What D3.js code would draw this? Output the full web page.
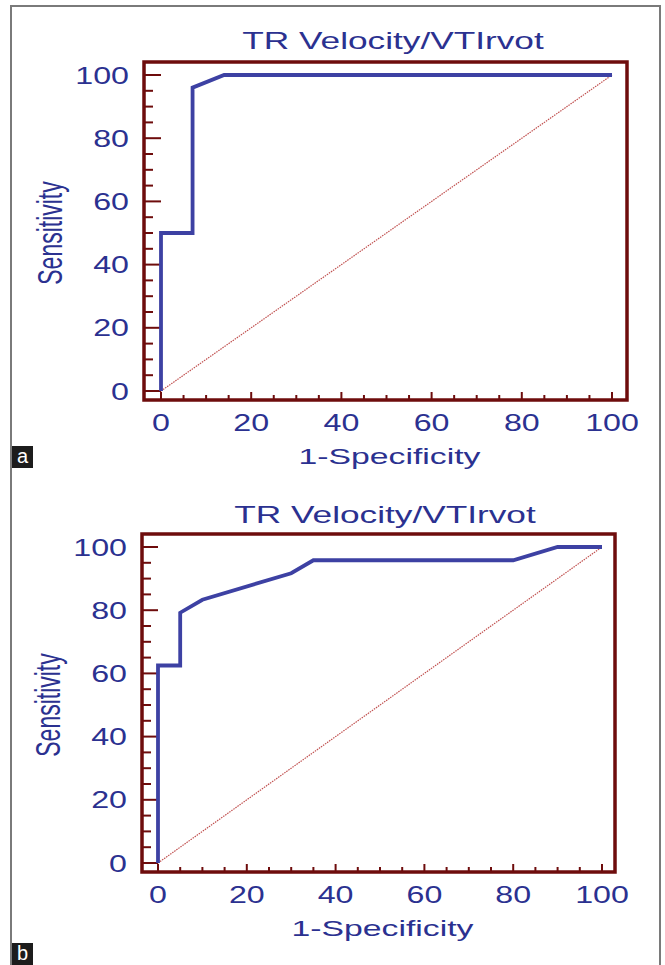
<!DOCTYPE html>
<html>
<head>
<meta charset="utf-8">
<script src="https://cdn.jsdelivr.net/npm/d3@7"></script>
<style>
  html, body { margin: 0; padding: 0; background: #ffffff; }
  svg { display: block; }
  text { font-family: "Liberation Sans", Arial, sans-serif; }
</style>
</head>
<body>
<svg id="roc-svg" width="665" height="965"></svg>
<script>
// ROC data (1-specificity %, sensitivity %)
const fprA = [0, 0, 7, 7, 14, 100]
const sensA = [0, 50, 50, 96, 100, 100]
const fprB = [0, 0, 5, 5, 10, 30, 35, 80, 90, 100]
const sensB = [0, 62.5, 62.5, 79.2, 83.3, 91.7, 95.8, 95.8, 100, 100]
const refLine = [0, 100]          // chance diagonal
const tickValues = [0, 20, 40, 60, 80, 100]
const panelLabels = ["a", "b"]
const chartTitle = "TR Velocity/VTIrvot"
const xTitle = "1-Specificity"
const yTitle = "Sensitivity"

const textColor = "#2b3190",
      curveColor = "#3d41a3",
      frameColor = "#6e0c0c",
      diagColor = "#c0504f"

const sx = 1.4   // the source figure is stretched sideways

// panel layout (pixel boxes)
const layouts = [
    { frame: [144, 62, 627, 400], xr: [161, 612], yr: [391, 75], titleX: 393, titleY: 49, labelY: 446 },
    { frame: [142, 534, 615, 872], xr: [158, 602], yr: [863, 547], titleX: 385, titleY: 523, labelY: 943 }
]
const series = [
    { fpr: fprA, sens: sensA },
    { fpr: fprB, sens: sensB }
]

const svg = d3.select("#roc-svg")

// grey outer border of the figure
svg.append("rect")
    .attr("x", 11).attr("y", 6)
    .attr("width", 649).attr("height", 980)
    .attr("fill", "none")
    .attr("stroke", "#7a7a7a")
    .attr("stroke-width", 2)

function stretchedText(g, x, y, str, size, anchor, scaleX) {
    return g.append("text")
        .attr("transform", `translate(${x},${y}) scale(${scaleX},1)`)
        .attr("text-anchor", anchor)
        .attr("font-size", size)
        .attr("fill", textColor)
        .text(str)
}

layouts.forEach((lay, p) => {
    const g = svg.append("g").attr("class", "panel-" + panelLabels[p])
    const [fx0, fy0, fx1, fy1] = lay.frame
    const x = d3.scaleLinear().domain([0, 100]).range(lay.xr)
    const y = d3.scaleLinear().domain([0, 100]).range(lay.yr)
    const minor = x.ticks(20)

    // title
    stretchedText(g, lay.titleX, lay.titleY, chartTitle, 23.5, "middle", 1.5)

    // y ticks (inside, from left frame)
    g.selectAll(".ytick")
        .data(minor)
        .enter()
        .append("line")
        .attr("x1", fx0)
        .attr("x2", d => tickValues.includes(d) ? x(0) : fx0 + 9)
        .attr("y1", d => y(d))
        .attr("y2", d => y(d))
        .attr("stroke", frameColor)
        .attr("stroke-width", 2)
    // x ticks (inside, from bottom frame)
    g.selectAll(".xtick")
        .data(minor)
        .enter()
        .append("line")
        .attr("x1", d => x(d))
        .attr("x2", d => x(d))
        .attr("y1", fy1)
        .attr("y2", d => tickValues.includes(d) ? fy1 - 8 : fy1 - 5)
        .attr("stroke", frameColor)
        .attr("stroke-width", 2)

    // tick labels
    tickValues.forEach(v => {
        stretchedText(g, fx0 - 15, y(v) + 8.5, v, 23, "end", sx)
        stretchedText(g, x(v), fy1 + 31, v, 23, "middle", sx)
    })

    // axis titles
    stretchedText(g, (fx0 + fx1) / 2 + 4, fy1 + 64, xTitle, 22.5, "middle", 1.5)
    g.append("text")
        .attr("transform", `translate(${fx0 - 82},${(y(0) + y(100)) / 2}) rotate(-90) scale(1,1.55)`)
        .attr("text-anchor", "middle")
        .attr("font-size", 23)
        .attr("fill", textColor)
        .text(yTitle)

    // chance diagonal
    g.append("line")
        .attr("x1", x(refLine[0])).attr("y1", y(refLine[0]))
        .attr("x2", x(refLine[1])).attr("y2", y(refLine[1]))
        .attr("stroke", diagColor)
        .attr("stroke-width", 1.2)
        .attr("stroke-dasharray", "1.5,1")

    // ROC curve
    const s = series[p]
    const line = d3.line().x(d => x(d[0])).y(d => y(d[1]))
    g.append("path")
        .datum(d3.zip(s.fpr, s.sens))
        .attr("d", line)
        .attr("fill", "none")
        .attr("stroke", curveColor)
        .attr("stroke-width", 3.8)
        .attr("stroke-linejoin", "miter")

    // frame
    g.append("rect")
        .attr("x", fx0).attr("y", fy0)
        .attr("width", fx1 - fx0).attr("height", fy1 - fy0)
        .attr("fill", "none")
        .attr("stroke", frameColor)
        .attr("stroke-width", 3.5)

    // panel letter
    g.append("rect")
        .attr("x", 12).attr("y", lay.labelY)
        .attr("width", 21).attr("height", 22)
        .attr("fill", "#1c1c1c")
    g.append("text")
        .attr("x", 22.5).attr("y", lay.labelY + 17)
        .attr("text-anchor", "middle")
        .attr("font-size", 20)
        .attr("fill", "#ffffff")
        .text(panelLabels[p])
})
</script>
</body>
</html>
